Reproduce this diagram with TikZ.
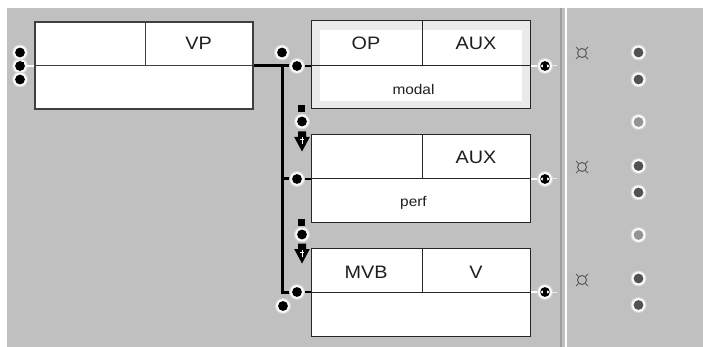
\documentclass[tikz,border=0pt]{standalone}
\usepackage{fontspec}
\setmainfont{Liberation Sans}
\newfontfamily\labfont[FakeStretch=1.1]{Liberation Sans}
\definecolor{bggray}{RGB}{192,192,192}
\definecolor{ringc}{RGB}{250,250,250}
\definecolor{ringo}{RGB}{214,214,214}
\definecolor{framec}{RGB}{234,234,234}
\definecolor{txt}{RGB}{30,30,30}
\begin{document}
\begin{tikzpicture}[x=1pt,y=-1pt,
  box/.style={rectangle, draw=black!85, line width=1pt, fill=white, inner sep=0pt, minimum width=219pt, minimum height=88pt},
  divider/.style={draw=black!85, line width=1pt},
  conn/.style={circle, inner sep=0pt, minimum size=16pt, fill=ringo, path picture={
      \fill[ringc] (path picture bounding box.center) circle (6.9);
      \fill[#1] (path picture bounding box.center) circle (4.9);}},
  conn/.default=black,
  outc/.style={circle, inner sep=0pt, minimum size=16pt, fill=ringo, path picture={
      \fill[ringc] (path picture bounding box.center) circle (6.9);
      \fill[black] (path picture bounding box.center) circle (4.9);
      \fill[white] ([xshift=-4.9pt]path picture bounding box.center) -- ++(2.8,-1.5) -- ++(0,3) -- cycle;
      \fill[white] ([xshift=4.9pt]path picture bounding box.center) -- ++(-2.8,-1.5) -- ++(0,3) -- cycle;}},
  pdot/.style={conn=black!68},
  hdot/.style={conn=black!42},
  sqr/.style={rectangle, inner sep=0pt, minimum size=7pt, fill=black},
  bus/.style={line width=3pt, black},
  stub/.style={line width=2pt, black},
  wstub/.style={line width=1.5pt, white},
  big/.style={font=\labfont\fontsize{18}{20}\selectfont, text=txt, anchor=base, inner sep=0pt},
  small/.style={font=\labfont\fontsize{14}{16}\selectfont, text=txt, anchor=base, inner sep=0pt},
  cursym/.style={draw=black!65, line width=1pt},
]
\path[use as bounding box] (0,0) rectangle (703,347);
\fill[white] (0,0) rectangle (703,347);
\fill[bggray] (7,8) rectangle (703,347);
% separator
\draw[black!38, line width=1.6pt] (561,8) -- (561,347);
\draw[white, line width=1.4pt] (566,8) -- (566,347);

% ---------- VP box ----------
\node[box, draw=black!75, line width=2pt, minimum width=218pt, minimum height=87.5pt] (vp) at (144,65.5) {};
\draw[divider, draw=black!75] (35,66) -- (253,66);
\draw[divider, draw=black!75] (145,22) -- (145,66);
\node[big] (vplab) at (198.5,50) {VP};

% ---------- modal box ----------
\node[box, fill=framec, minimum height=87.5pt] (modal) at (420.5,64.5) {};
\fill[white] (320,30) rectangle (521.5,100.7);
\draw[divider] (311,66) -- (530,66);
\draw[divider] (422,21) -- (422,66);
\node[big] (oplab) at (366,50) {OP};
\node[big] (aux1) at (476,50) {AUX};
\node[small] (modallab) at (413.5,95) {modal};

% ---------- perf box ----------
\node[box] (perf) at (420.5,178.5) {};
\draw[divider] (311,179) -- (530,179);
\draw[divider] (422,134.5) -- (422,179);
\node[big] (aux2) at (476,164) {AUX};
\node[small] (perflab) at (413.5,207) {perf};

% ---------- MVB box ----------
\node[box] (mvb) at (420.5,292.5) {};
\draw[divider] (311,292) -- (530,292);
\draw[divider] (422,248.5) -- (422,292);
\node[big] (mvblab) at (366,278) {MVB};
\node[big] (vlab) at (476,278) {V};

% ---------- left connectors of VP ----------
\node[conn] (l2) at (20,66) {};
\draw[wstub] (26,66) -- (vp.west |- 0,66);
\node[conn] (l1) at (20,52.5) {};
\node[conn] (l3) at (20,79.5) {};
\fill[black] (16.5,62.5) rectangle (23.5,69.5);

% ---------- bus ----------
\coordinate (bustop) at (282,66);
\coordinate (busmid) at (282,179);
\coordinate (busbot) at (282,292);
\draw[bus] (vp.east |- bustop) -- (297,66);
\draw[bus] (bustop) -- (busbot) -- (297,292);
\draw[bus] (busmid) -- (297,179);
\node[conn] (vpo) at (282,52.5) {};
\node[conn] (in1) at (297,66) {};
\node[conn] (in2) at (297,179) {};
\node[conn] (in3) at (297,292) {};
\node[conn] (vpend) at (283,306) {};
\draw[stub] (in1) -- (in1 -| modal.west);
\draw[stub] (in2) -- (in2 -| perf.west);
\draw[stub] (in3) -- (in3 -| mvb.west);

% ---------- right connectors ----------
\draw[wstub] (modal.east |- 0,66) -- (545,66);
\draw[wstub] (perf.east |- 0,179) -- (545,179);
\draw[wstub] (mvb.east |- 0,292) -- (545,292);
\node[outc] (out1) at (545,66) {};
\node[outc] (out2) at (545,179) {};
\node[outc] (out3) at (545,292) {};
\foreach \o in {out1,out2,out3}{
  \draw[white!92!black, line width=1pt] ([xshift=8pt]\o.center) -- ([xshift=12pt]\o.center);
}

% ---------- sequence links ----------
\node[sqr] (sq1) at (301.5,108.5) {};
\node[conn] (c1) at (302,121.5) {};
\node[sqr] (sq2) at (301.5,222.5) {};
\node[conn] (c2) at (302,234.5) {};
\foreach \t in {131.5,243.5}{
  \fill[black] (298,\t) -- (306,\t) -- (306,\t+5.5) -- (309.8,\t+5.5) -- (302,\t+20) -- (294.2,\t+5.5) -- (298,\t+5.5) -- cycle;
  \draw[white, line width=1pt] (302,\t+6) -- (302,\t+13);
  \draw[white, line width=1pt] (300.3,\t+8.5) -- (303.7,\t+8.5);
}

% ---------- right panel ----------
\foreach \y in {53,167,280}{
  \draw[cursym] (582,\y) circle (4.5);
  \draw[cursym] (582,\y) ++(3.4,3.4) -- ++(2.6,2.6);
  \draw[cursym] (582,\y) ++(-3.4,3.4) -- ++(-2.6,2.6);
  \draw[cursym] (582,\y) ++(3.4,-3.4) -- ++(2.6,-2.6);
  \draw[cursym] (582,\y) ++(-3.4,-3.4) -- ++(-2.6,-2.6);
}
\foreach \y/\n in {52.5/p1,79.5/p2,166/p4,192.5/p5,278.5/p7,305/p8}{
  \node[pdot] (\n) at (638.5,\y) {};
}
\node[hdot] (p3) at (638.5,122) {};
\node[hdot] (p6) at (638.5,235) {};
\end{tikzpicture}
\end{document}
